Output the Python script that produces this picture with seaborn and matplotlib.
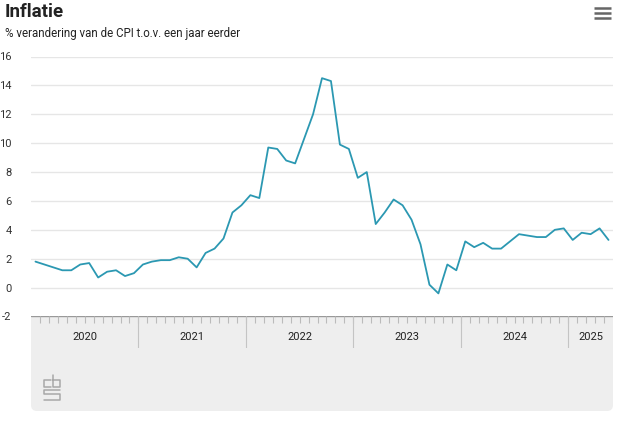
import matplotlib
import pandas as pd
import matplotlib.pyplot as plt
import seaborn as sns
from matplotlib.patches import FancyBboxPatch, Rectangle

matplotlib.use("Agg")

# CPI, % change vs. a year earlier, monthly Jan 2020 - May 2025
years = ["2020", "2021", "2022", "2023", "2024", "2025"]
months_per_year = [12, 12, 12, 12, 12, 5]
cpi_2020 = [1.8, 1.6, 1.4, 1.2, 1.2, 1.6, 1.7, 0.7, 1.1, 1.2, 0.8, 1.0]
cpi_2021 = [1.6, 1.8, 1.9, 1.9, 2.1, 2.0, 1.4, 2.4, 2.7, 3.4, 5.2, 5.7]
cpi_2022 = [6.4, 6.2, 9.7, 9.6, 8.8, 8.6, 10.3, 12.0, 14.5, 14.3, 9.9, 9.6]
cpi_2023 = [7.6, 8.0, 4.4, 5.2, 6.1, 5.7, 4.7, 3.0, 0.2, -0.4, 1.6, 1.2]
cpi_2024 = [3.2, 2.8, 3.1, 2.7, 2.7, 3.2, 3.7, 3.6, 3.5, 3.5, 4.0, 4.1]
cpi_2025 = [3.3, 3.8, 3.7, 4.1, 3.3]
y_ticks = [-2, 0, 2, 4, 6, 8, 10, 12, 14, 16]

values = cpi_2020 + cpi_2021 + cpi_2022 + cpi_2023 + cpi_2024 + cpi_2025
df = pd.DataFrame({"maand": range(len(values)), "cpi": values})

W, H = 627, 424
sns.set_theme(style="white")
plt.rcParams["font.family"] = ["Roboto", "DejaVu Sans"]

fig = plt.figure(figsize=(W / 100, H / 100), dpi=100)

# background layer in pixel coordinates for the navigator box and icons
bg = fig.add_axes([0, 0, 1, 1], zorder=0)
bg.set_xlim(0, W)
bg.set_ylim(H, 0)
bg.axis("off")
bg.add_patch(FancyBboxPatch((31, 316), 582, 95, boxstyle="round,pad=0,rounding_size=6",
                            fc="#eeeeee", ec="none"))
bg.add_patch(Rectangle((31, 316), 582, 60, fc="#eeeeee", ec="none"))
for yy in (7.5, 12.5, 17.5):
    bg.plot([594, 611], [yy, yy], color="#666666", lw=1.8, solid_capstyle="butt")

# cbs logo, rough outline
logo = dict(color="#a8a8a8", lw=1.1)
bg.plot([51, 44, 44, 51], [380, 380, 387, 387], **logo)
bg.plot([53, 53, 60, 60, 53], [375, 387, 387, 380, 380], **logo)
bg.plot([60, 44, 44, 60, 60, 44], [389.5, 389.5, 394, 394, 399.5, 399.5], **logo)

fig.text(5 / W, 1 - 17 / H, "Inflatie", fontsize=13.5, fontweight="bold",
         color="#222222", va="baseline")
fig.text(5 / W, 1 - 37 / H, "% verandering van de CPI t.o.v. een jaar eerder",
         fontsize=8.3, color="#222222", va="baseline")

n = len(values)
ax = fig.add_axes([31 / W, 1 - 316.5 / H, 582 / W, 260 / H], zorder=1)
ax.set_facecolor("none")
sns.lineplot(data=df, x="maand", y="cpi", ax=ax, color="#2b98b2", linewidth=1.3)
ax.set_xlim(-0.5, n - 0.5)
ax.set_ylim(-2, 16)
ax.set_yticks(y_ticks)
ax.set_yticklabels([str(t) for t in y_ticks])
ax.set_xticks([])
ax.set_xlabel("")
ax.set_ylabel("")
for t in y_ticks[1:]:
    ax.axhline(t, color="#e6e6e6", lw=1.0, zorder=0)
ax.tick_params(axis="y", length=0, pad=14, labelsize=8, labelcolor="#333333")
for s in ax.spines.values():
    s.set_visible(False)

# navigator strip with month ticks and year labels
nav = fig.add_axes([31 / W, 1 - 348 / H, 582 / W, 32 / H], zorder=1)
nav.set_facecolor("none")
nav.set_xlim(-0.5, n - 0.5)
nav.set_ylim(0, 1)
nav.axis("off")
nav.axhline(1, color="#999999", lw=1.0)
nav.vlines([i - 0.5 for i in range(1, n)], 1 - 7 / 32, 1, color="#bbbbbb", lw=0.8)
start = 0
for year, count in zip(years, months_per_year):
    if start > 0:
        nav.vlines(start - 0.5, 0, 1, color="#c4c4c4", lw=0.8)
    nav.text(start + count / 2 - 0.5, 0.34, year, ha="center", va="center",
             fontsize=8, color="#222222")
    start += count

fig.savefig("out.png", dpi=100)
